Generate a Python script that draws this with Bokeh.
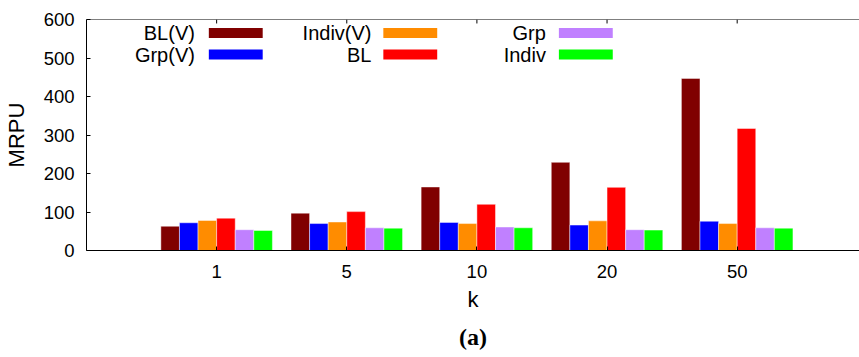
from bokeh.plotting import figure
from bokeh.models import FixedTicker, LinearAxis, Label, BoxAnnotation, Span, Title
from bokeh.embed import file_html
from bokeh.resources import INLINE

# MRPU for each method, by group size k
k_labels = ["1", "5", "10", "20", "50"]
series_names = ["BL(V)", "Grp(V)", "Indiv(V)", "BL", "Grp", "Indiv"]
bl_v = [63, 97, 165, 229, 447]
grp_v = [72, 70, 73, 66, 76]
indiv_v = [78, 74, 70, 77, 70]
bl = [84, 101, 120, 164, 317]
grp = [54, 59, 61, 54, 59]
indiv = [52, 58, 59, 53, 58]
series_values = [bl_v, grp_v, indiv_v, bl, grp, indiv]
colors = ["#800000", "#0000ff", "#ff8c00", "#ff0000", "#c080ff", "#00ff00"]

FONT = "Liberation Sans"
n_series = len(series_names)
bar_w = 1.0 / (n_series + 1)
positions = list(range(1, len(k_labels) + 1))
Y_MAX = 600
FRAME_H = 232

p = figure(width=859, height=357, x_range=(0, 5.94), y_range=(0, Y_MAX),
           output_backend="svg", toolbar_location=None,
           min_border_left=84, min_border_right=0, min_border_top=19,
           min_border_bottom=106, x_axis_location=None, y_axis_location=None)
p.outline_line_color = None
p.grid.visible = False
p.background_fill_color = "white"
p.border_fill_color = "white"

for i, (name, vals, col) in enumerate(zip(series_names, series_values, colors)):
    offset = (i - (n_series - 1) / 2) * bar_w
    xs = [x + offset for x in positions]
    p.vbar(x=xs, top=vals, bottom=0, width=bar_w, fill_color=col,
           line_color="white", line_alpha=0.45, line_width=1)

# axes: ticks drawn inward
tick_kw = dict(major_tick_in=4, major_tick_out=0, minor_tick_line_color=None,
               axis_line_color="black", major_tick_line_color="black",
               major_label_text_color="black", axis_label_text_color="black")

left = LinearAxis(ticker=FixedTicker(ticks=[0, 100, 200, 300, 400, 500, 600]),
                  axis_label="MRPU", axis_label_text_font=FONT,
                  axis_label_text_font_size="22px", axis_label_text_font_style="normal",
                  axis_label_standoff=12,
                  major_label_text_font=FONT, major_label_text_font_size="18.5px",
                  major_label_standoff=12, **tick_kw)
p.add_layout(left, "left")

bottom = LinearAxis(ticker=FixedTicker(ticks=positions),
                    major_label_overrides={x: lab for x, lab in zip(positions, k_labels)},
                    major_label_text_font=FONT, major_label_text_font_size="18.5px",
                    major_label_standoff=14,
                    axis_label="k", axis_label_text_font=FONT,
                    axis_label_text_font_size="22px", axis_label_text_font_style="normal",
                    axis_label_standoff=6, **tick_kw)
p.add_layout(bottom, "below")

# caption under the axis title
p.add_layout(Title(text="(a)", align="center", text_font="Liberation Serif",
                   text_font_size="24px", text_font_style="bold", text_color="black",
                   text_line_height=0.9, offset=6, standoff=15), "below")

# top border with mirrored x ticks
p.add_layout(Span(location=Y_MAX, dimension="width", line_color="black", line_width=1))
tick_len = 4 * Y_MAX / FRAME_H
p.segment(x0=positions, x1=positions, y0=[Y_MAX] * len(positions),
          y1=[Y_MAX - tick_len] * len(positions), line_color="black", line_width=1)

# key: two rows by three columns, text to the left of each swatch
key_cols = [(0.833, 0.94), (2.19, 2.281), (3.53, 3.63)]
key_rows = [565, 509]
sw_len = 0.414
sw_h = 26
for i, (name, col) in enumerate(zip(series_names, colors)):
    c, r = i // 2, i % 2
    tx, sx = key_cols[c]
    yc = key_rows[r]
    p.add_layout(Label(x=tx, y=yc, text=name, text_font=FONT, text_font_size="20px",
                       text_color="black", text_align="right", text_baseline="middle"))
    p.add_layout(BoxAnnotation(left=sx, right=sx + sw_len, bottom=yc - sw_h / 2,
                               top=yc + sw_h / 2, fill_color=col, fill_alpha=1,
                               line_color=None))

open("out.html", "w").write(file_html(p, INLINE))
